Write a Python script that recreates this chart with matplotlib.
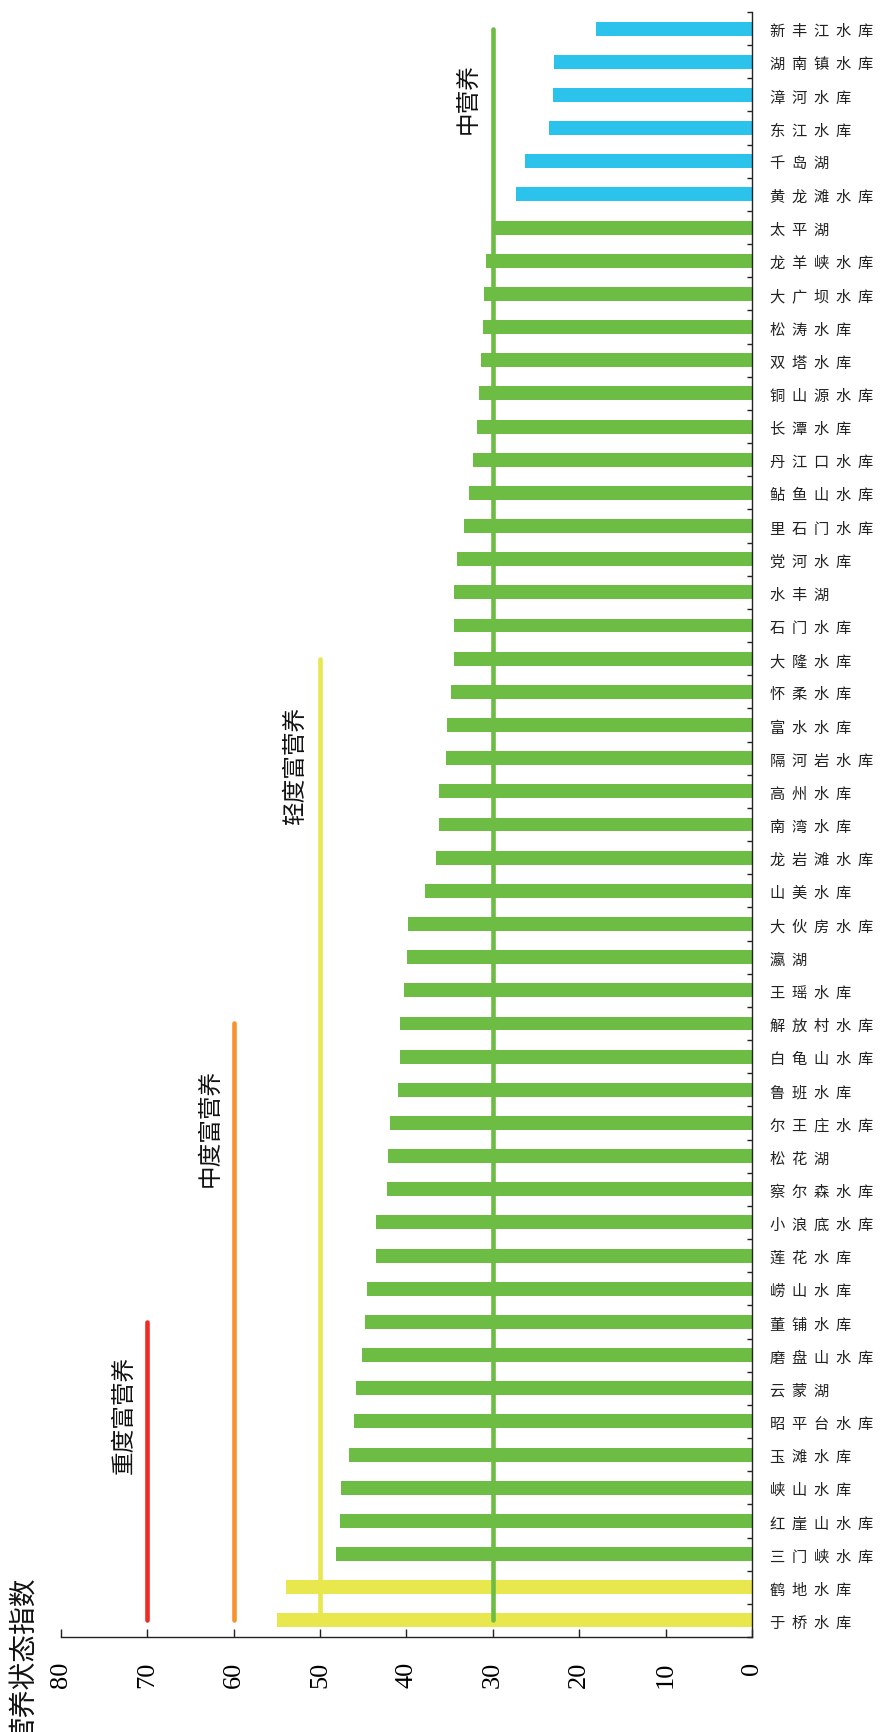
import numpy as np
import matplotlib.pyplot as plt

# reservoirs from bottom (highest index) to top of the chart
reservoirs = [
    "于桥水库", "鹤地水库", "三门峡水库", "红崖山水库", "峡山水库", "玉滩水库",
    "昭平台水库", "云蒙湖", "磨盘山水库", "董铺水库", "崂山水库", "莲花水库",
    "小浪底水库", "察尔森水库", "松花湖", "尔王庄水库", "鲁班水库", "白龟山水库",
    "解放村水库", "王瑶水库", "瀛湖", "大伙房水库", "山美水库", "龙岩滩水库",
    "南湾水库", "高州水库", "隔河岩水库", "富水水库", "怀柔水库", "大隆水库",
    "石门水库", "水丰湖", "党河水库", "里石门水库", "鲇鱼山水库", "丹江口水库",
    "长潭水库", "铜山源水库", "双塔水库", "松涛水库", "大广坝水库", "龙羊峡水库",
    "太平湖", "黄龙滩水库", "千岛湖", "东江水库", "漳河水库", "湖南镇水库",
    "新丰江水库",
]
tsi = np.array([
    55.0, 54.0, 48.2, 47.7, 47.6, 46.6,
    46.1, 45.8, 45.2, 44.8, 44.6, 43.5,
    43.5, 42.2, 42.1, 41.9, 41.0, 40.8,
    40.8, 40.3, 39.9, 39.8, 37.9, 36.6,
    36.2, 36.2, 35.4, 35.3, 34.8, 34.5,
    34.5, 34.5, 34.1, 33.3, 32.8, 32.3,
    31.8, 31.6, 31.4, 31.2, 31.0, 30.8,
    30.0, 27.3, 26.3, 23.5, 23.0, 22.9,
    18.1,
])

# trophic grade boundaries
grade_labels = ["重度富营养", "中度富营养", "轻度富营养", "中营养"]
grade_values = [70, 60, 50, 30]
grade_tops = [9, 18, 29, 48]
grade_colors = ["#EE2B24", "#F7922F", "#E9E74E", "#6DBD45"]
label_offsets = [(-17, -24), (-17, -32), (-18, -34), (-18, -24)]

yellow, green, blue = "#E9E74E", "#6DBD45", "#2BC2EC"
bar_colors = np.where(tsi >= 50, yellow, np.where(tsi >= 30, green, blue))

plt.rcParams["font.family"] = ["Noto Sans CJK SC", "DejaVu Sans"]

W, H = 881, 1733
fig = plt.figure(figsize=(W / 100, H / 100), dpi=100)
ax = fig.add_axes([61 / W, 95 / H, (752 - 61) / W, (1638 - 13) / H])

y = np.arange(len(reservoirs))
ax.barh(y, tsi, height=0.42, color=bar_colors, zorder=2)

# vertical grade lines with their labels
for label, value, top, color, off in zip(grade_labels, grade_values, grade_tops,
                                         grade_colors, label_offsets):
    ax.plot([value, value], [0, top], color=color, lw=3.3,
            solid_capstyle="round", zorder=3)
    ax.annotate(label, xy=(value, top), xytext=off, textcoords="offset points",
                rotation=90, ha="center", va="top", fontsize=17, color="#111111")

ax.set_xlim(80, 0)
ax.set_ylim(-0.5, len(reservoirs) - 0.5)

for side in ["top", "left"]:
    ax.spines[side].set_visible(False)
for side in ["right", "bottom"]:
    ax.spines[side].set_linewidth(1.0)
    ax.spines[side].set_color("#222222")

ax.yaxis.tick_right()
ax.set_yticks(y)
ax.set_yticklabels(["  ".join(n) for n in reservoirs], fontsize=11, color="#222222")
ax.set_yticks(np.arange(-0.5, len(reservoirs)), minor=True)
ax.tick_params(axis="y", which="major", length=0, pad=13)
ax.tick_params(axis="y", which="minor", direction="in", length=3.6, width=1,
               color="#222222")

ticks = np.arange(0, 81, 10)
ax.set_xticks(ticks)
ax.set_xticklabels([str(t) for t in ticks], rotation=90,
                   fontfamily="Liberation Serif", fontsize=19)
ax.tick_params(axis="x", direction="in", length=6, width=1, pad=17,
               color="#222222")

fig.text(23 / W, 1 - 1577 / H, "营养状态指数", rotation=90, ha="center",
         va="top", fontsize=20, color="#111111")

fig.savefig("out.png", dpi=100, facecolor="white")
